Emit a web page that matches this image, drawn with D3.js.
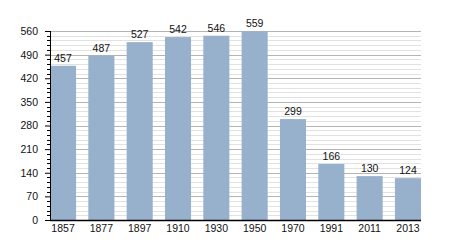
<!DOCTYPE html>
<html>
<head>
<meta charset="utf-8">
<script src="https://cdn.jsdelivr.net/npm/d3@7"></script>
<style>
  body { margin: 0; background: #fff; }
  svg text { font-family: "Liberation Sans", Arial, sans-serif; }
</style>
</head>
<body>
<svg id="chart" width="450" height="250"></svg>
<script>
// population by census year
var years = ["1857", "1877", "1897", "1910", "1930", "1950", "1970", "1991", "2011", "2013"];
var population = [457, 487, 527, 542, 546, 559, 299, 166, 130, 124];
var yTicks = [0, 70, 140, 210, 280, 350, 420, 490, 560];

var margin = { top: 31, right: 29, bottom: 30, left: 50 },
    width = 450 - margin.left - margin.right,
    height = 250 - margin.top - margin.bottom;

var svg = d3.select("#chart")
    .append("g")
    .attr("transform", "translate(" + margin.left + "," + margin.top + ")");

var x = d3.scaleBand().domain(years).range([0, width])
    .paddingInner(0.32).paddingOuter(0);

var y = d3.scaleLinear().domain([0, 560]).range([height, 0]);

// minor grid lines every 14
var minor = d3.range(0, 561, 14).filter(function (d) { return d % 70 !== 0; });
svg.append("g").selectAll("line")
    .data(minor).enter().append("line")
    .attr("x1", 0).attr("x2", width)
    .attr("y1", function (d) { return Math.round(y(d)) + 0.5; })
    .attr("y2", function (d) { return Math.round(y(d)) + 0.5; })
    .attr("stroke", "#e2e2e2");

// major grid lines
svg.append("g").selectAll("line")
    .data(yTicks.slice(1)).enter().append("line")
    .attr("x1", 0).attr("x2", width)
    .attr("y1", function (d) { return Math.round(y(d)) + 0.5; })
    .attr("y2", function (d) { return Math.round(y(d)) + 0.5; })
    .attr("stroke", "#b4b4b4");

// bars
svg.append("g").selectAll("rect")
    .data(population).enter().append("rect")
    .attr("x", function (d, i) { return x(years[i]); })
    .attr("y", function (d) { return y(d); })
    .attr("width", x.bandwidth())
    .attr("height", function (d) { return height - y(d); })
    .attr("fill", "#97b0cc");

// value labels
svg.append("g").selectAll("text")
    .data(population).enter().append("text")
    .attr("x", function (d, i) { return x(years[i]) + x.bandwidth() / 2; })
    .attr("y", function (d) { return y(d) - 4; })
    .attr("text-anchor", "middle")
    .attr("font-size", "10.5px")
    .attr("fill", "#111")
    .text(function (d) { return d; });

// y axis with minor ticks
var yAxis = svg.append("g")
    .call(d3.axisLeft(y).tickValues(yTicks).tickSize(5).tickPadding(7));
yAxis.append("g").selectAll("line")
    .data(minor).enter().append("line")
    .attr("x1", -3).attr("x2", 0)
    .attr("y1", function (d) { return Math.round(y(d)) + 0.5; })
    .attr("y2", function (d) { return Math.round(y(d)) + 0.5; })
    .attr("stroke", "#000");
yAxis.select(".domain").attr("d", "M0.5," + height + "V0");
yAxis.selectAll("text").attr("font-size", "10.5px").attr("fill", "#111");
yAxis.selectAll(".tick line").attr("stroke", "#000");

// x axis
var xAxis = svg.append("g")
    .attr("transform", "translate(0," + height + ")")
    .call(d3.axisBottom(x).tickSize(0).tickPadding(5));
xAxis.select(".domain").attr("d", "M0," + 0.5 + "H" + width).attr("stroke-width", 1.5);
xAxis.selectAll("text").attr("font-size", "10.5px").attr("fill", "#111");
</script>
</body>
</html>
